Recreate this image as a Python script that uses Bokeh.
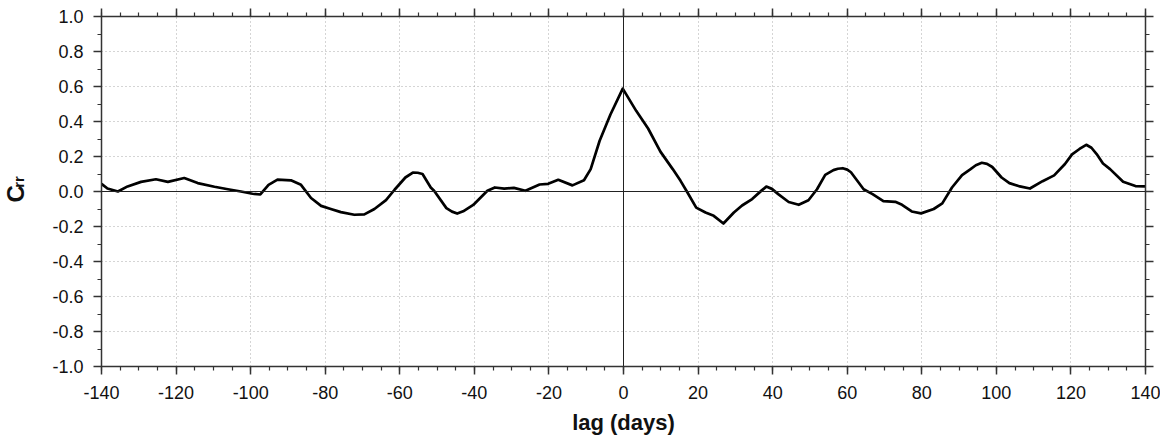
import math
from bokeh.plotting import figure
from bokeh.layouts import row
from bokeh.models import (Range1d, FixedTicker, LinearAxis, Span,
                          PrintfTickFormatter, CustomJSTickFormatter)
from bokeh.core.properties import value
from bokeh.embed import file_html
from bokeh.resources import INLINE

# ---- data ----
lag = [-140, -138.4, -135.6, -133, -129.4, -125.4, -122.2, -117.8, -114.2,
       -109.7, -106.1, -102.6, -99.5, -97.4, -95.2, -92.8, -89.2, -86.5,
       -83.8, -81.1, -78.5, -75.8, -72.2, -69.5, -66.8, -63.7, -61.4, -58.5,
       -56.5, -55.2, -53.9, -51.7, -50.8, -47.5, -46, -44.6, -43, -40.3, -36.5,
       -34.5, -32, -29.4, -26.3, -22.5, -20.2, -17.5, -13.7, -10.6, -8.8,
       -6.4, -3.5, -0.2, 3.4, 6.6, 9.9, 13.2, 15.3, 17, 19.5, 22, 24.2,
       26.8, 29.6, 31.8, 34.5, 37, 38.3, 39.8, 41.5, 44.3, 47, 49.6, 51.9,
       54.1, 56.3, 57.5, 58.8, 60, 61, 64.4, 66.8, 69.7, 72.9, 74.7, 77.3,
       79.8, 83.2, 85.5, 88.1, 90.8, 92.9, 94.5, 96.1, 97.5, 98.9, 101.4,
       103.5, 106.3, 109, 112.4, 115.5, 118.4, 120.3, 122.3, 124.1, 125.5,
       126.9, 128.6, 130.5, 134, 137.3, 140]
crr = [0.044, 0.017, 0.0, 0.029, 0.055, 0.070, 0.055, 0.077, 0.048,
       0.027, 0.013, 0.0, -0.013, -0.017, 0.038, 0.068, 0.064, 0.038,
       -0.037, -0.082, -0.100, -0.118, -0.133, -0.131, -0.100, -0.049, 0.010, 0.080,
       0.108, 0.107, 0.100, 0.023, 0.004, -0.095, -0.115, -0.126, -0.113, -0.077, 0.004,
       0.023, 0.016, 0.021, 0.004, 0.040, 0.044, 0.067, 0.035, 0.064, 0.128,
       0.29, 0.44, 0.588, 0.461, 0.36, 0.228, 0.128, 0.061, 0.0, -0.092, -0.120, -0.139,
       -0.183, -0.120, -0.080, -0.043, 0.005, 0.028, 0.015, -0.015, -0.060, -0.076, -0.050, 0.013,
       0.095, 0.122, 0.130, 0.133, 0.125, 0.110, 0.013, -0.015, -0.055, -0.059, -0.076, -0.114,
       -0.125, -0.100, -0.068, 0.023, 0.094, 0.125, 0.150, 0.164, 0.158, 0.140, 0.080,
       0.048, 0.029, 0.017, 0.059, 0.092, 0.157, 0.212, 0.243, 0.267, 0.250,
       0.214, 0.160, 0.128, 0.056, 0.031, 0.029]

x_major = list(range(-140, 141, 20))
x_minor = list(range(-140, 141, 5))
y_major = [-1.0, -0.8, -0.6, -0.4, -0.2, 0.0, 0.2, 0.4, 0.6, 0.8, 1.0]
y_minor = [-1.0, -0.9, -0.8, -0.7, -0.6, -0.5, -0.4, -0.3, -0.2, -0.1, 0.0,
           0.1, 0.2, 0.3, 0.4, 0.5, 0.6, 0.7, 0.8, 0.9, 1.0]

x_title = "lag (days)"
y_title_main = "C"
y_title_sub = "rr"

FONT = "Liberation Sans"
AX = "#333333"
TXT = "#111111"
W, H = 1160, 440
LW = 40  # width of the narrow figure holding the y title

p = figure(width=W - LW, height=H, output_backend="svg", toolbar_location=None,
           x_range=Range1d(-140, 140), y_range=Range1d(-1, 1),
           x_axis_location=None, y_axis_location=None,
           min_border_left=101 - LW, min_border_right=15, min_border_top=16,
           min_border_bottom=74)
p.outline_line_color = None

xt = FixedTicker(ticks=x_major, minor_ticks=x_minor)
yt = FixedTicker(ticks=y_major, minor_ticks=y_minor)
blank = CustomJSTickFormatter(code="return ''")


def style(ax, labels=True):
    ax.axis_line_color = AX
    ax.axis_line_width = 1.5
    ax.major_tick_line_color = AX
    ax.major_tick_line_width = 1.5
    ax.minor_tick_line_color = AX
    ax.minor_tick_line_width = 1.2
    ax.major_tick_in = 0
    ax.major_tick_out = 8
    ax.minor_tick_in = 0
    ax.minor_tick_out = 4
    if labels:
        ax.major_label_text_font = FONT
        ax.major_label_text_font_size = "18px"
        ax.major_label_text_color = TXT
    else:
        ax.major_label_standoff = 0


bottom = LinearAxis(ticker=xt, formatter=PrintfTickFormatter(format="%d"),
                    axis_label=x_title)
style(bottom)
bottom.major_label_standoff = 11
bottom.axis_label_text_font = FONT
bottom.axis_label_text_font_size = "22px"
bottom.axis_label_text_font_style = "bold"
bottom.axis_label_text_color = TXT
bottom.axis_label_standoff = 8
p.add_layout(bottom, "below")

left = LinearAxis(ticker=yt, formatter=PrintfTickFormatter(format="%.1f"))
style(left)
left.major_label_standoff = 10
p.add_layout(left, "left")

top = LinearAxis(ticker=xt, formatter=blank)
style(top, labels=False)
p.add_layout(top, "above")

right = LinearAxis(ticker=yt, formatter=blank)
style(right, labels=False)
p.add_layout(right, "right")

p.xgrid.ticker = xt
p.ygrid.ticker = yt
for g in (p.xgrid, p.ygrid):
    g.grid_line_color = "#aaaaaa"
    g.grid_line_dash = "1 3"
    g.grid_line_width = 1

p.add_layout(Span(location=0, dimension="height", line_color="#222222", line_width=1))
p.add_layout(Span(location=0, dimension="width", line_color="#222222", line_width=1))

p.line(lag, crr, line_color="black", line_width=2.7, line_join="round")

# narrow figure carrying the rotated y title C_rr (pixel coordinates)
t = figure(width=LW, height=H, output_backend="svg", toolbar_location=None,
           x_range=Range1d(0, LW), y_range=Range1d(0, H),
           x_axis_location=None, y_axis_location=None,
           min_border=0)
t.outline_line_color = None
t.grid.visible = False
t.text(x=[15], y=[H - 223], text=[y_title_main], angle=math.pi / 2,
       text_align="center", text_baseline="alphabetic",
       text_font=value(FONT), text_font_size="24px", text_font_style="bold",
       text_color=TXT)
t.text(x=[17.5], y=[H - 208], text=[y_title_sub], angle=math.pi / 2,
       text_align="center", text_baseline="alphabetic",
       text_font=value(FONT), text_font_size="15px", text_font_style="bold",
       text_color=TXT)

layout = row(t, p, spacing=0)
open("out.html", "w").write(file_html(layout, INLINE))
